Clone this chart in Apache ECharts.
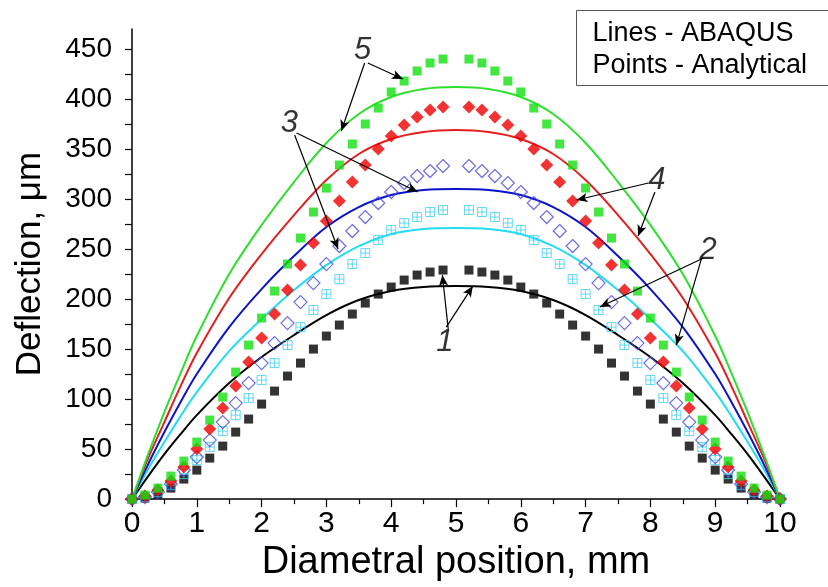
<!DOCTYPE html>
<html>
<head>
<meta charset="utf-8">
<script src="https://cdn.jsdelivr.net/npm/echarts@6/dist/echarts.min.js"></script>
<style>
  html, body { margin: 0; padding: 0; background: #fff; }
  #chart { width: 828px; height: 587px; }
</style>
</head>
<body>
<div id="chart"></div>
<script>
// analytical points (mm positions, no point at 5.0)
var xPts = [0, 0.2, 0.4, 0.6, 0.8, 1, 1.2, 1.4, 1.6, 1.8, 2, 2.2, 2.4, 2.6, 2.8, 3, 3.2, 3.4, 3.6, 3.8, 4, 4.2, 4.4, 4.6, 4.8,
            5.2, 5.4, 5.6, 5.8, 6, 6.2, 6.4, 6.6, 6.8, 7, 7.2, 7.4, 7.6, 7.8, 8, 8.2, 8.4, 8.6, 8.8, 9, 9.2, 9.4, 9.6, 9.8, 10];
var pts1 = [0, 1, 5, 11, 20, 29, 41, 53, 67, 80, 95, 108, 123, 136, 150, 163, 174, 185, 196, 205, 212, 219, 224, 227, 229,
            229, 227, 224, 219, 212, 205, 196, 185, 174, 163, 150, 136, 123, 108, 95, 80, 67, 53, 41, 29, 20, 11, 5, 1, 0];
var pts2 = [0, 2, 7, 14, 25, 39, 52, 68, 84, 101, 119, 136, 154, 172, 189, 205, 220, 235, 246, 259, 269, 276, 282, 287, 289,
            289, 287, 282, 276, 269, 259, 246, 235, 220, 205, 189, 172, 154, 136, 119, 101, 84, 68, 52, 39, 25, 14, 7, 2, 0];
var pts3 = [0, 2, 7, 15, 29, 42, 59, 77, 96, 116, 136, 156, 176, 197, 216, 235, 253, 268, 282, 296, 307, 316, 323, 328, 333,
            333, 328, 323, 316, 307, 296, 282, 268, 253, 235, 216, 197, 176, 156, 136, 116, 96, 77, 59, 42, 29, 15, 7, 2, 0];
var pts4 = [0, 3, 9, 18, 32, 50, 70, 91, 113, 137, 161, 185, 209, 234, 256, 278, 298, 317, 334, 350, 363, 374, 382, 389, 392,
            392, 389, 382, 374, 363, 350, 334, 317, 298, 278, 256, 234, 209, 185, 161, 137, 113, 91, 70, 50, 32, 18, 9, 3, 0];
var pts5 = [0, 4, 11, 23, 38, 57, 79, 102, 127, 154, 181, 208, 235, 261, 287, 311, 334, 355, 375, 391, 407, 418, 428, 436, 440,
            440, 436, 428, 418, 407, 391, 375, 355, 334, 311, 287, 261, 235, 208, 181, 154, 127, 102, 79, 57, 38, 23, 11, 4, 0];

// ABAQUS lines
var xLine = [0, 0.25, 0.5, 0.75, 1, 1.5, 2, 2.5, 3, 3.5, 4, 4.5, 5, 5.5, 6, 6.5, 7, 7.5, 8, 8.5, 9, 9.25, 9.5, 9.75, 10];
var line1 = [0, 23, 45, 65, 84, 116, 142, 164, 184, 199, 208, 212, 213, 212, 208, 199, 184, 164, 142, 116, 84, 65, 45, 23, 0];
var line2 = [0, 30, 57, 83, 107, 148, 180, 209, 234, 253, 265, 270, 271, 270, 265, 253, 234, 209, 180, 148, 107, 83, 57, 30, 0];
var line3 = [0, 35, 67, 97, 125, 172, 210, 243, 272, 292, 304, 309, 310, 309, 304, 292, 272, 243, 210, 172, 125, 97, 67, 35, 0];
var line4 = [0, 41, 77, 113, 146, 201, 245, 284, 319, 345, 360, 367, 369, 367, 360, 345, 319, 284, 245, 201, 146, 113, 77, 41, 0];
var line5 = [0, 45, 87, 126, 163, 225, 274, 317, 356, 385, 402, 410, 412, 410, 402, 385, 356, 317, 274, 225, 163, 126, 87, 45, 0];

var yTicks = [0, 25, 50, 75, 100, 125, 150, 175, 200, 225, 250, 275, 300, 325, 350, 375, 400, 425, 450];
var yLabels = [0, 50, 100, 150, 200, 250, 300, 350, 400, 450];

// curve numbers and their arrows (data coords)
var tags = [[3.56, 449, '5'], [2.43, 376, '3'], [8.10, 319, '4'], [8.89, 249, '2'], [4.83, 157, '1']];
var arrows = [
  [[3.64, 436], [4.18, 420]], [[3.59, 436], [3.23, 368]],
  [[2.54, 366], [4.41, 307]], [[2.51, 364], [3.18, 250]],
  [[7.97, 316], [6.86, 299]], [[8.07, 307], [7.81, 263]],
  [[8.82, 241], [7.22, 192]], [[8.79, 241], [8.40, 154]],
  [[4.88, 170], [4.79, 224]], [[4.85, 172], [5.26, 213]]
];

function zip(xs, ys) {
  return xs.map(function (x, i) { return [x, ys[i]]; });
}

var FONT = 'Liberation Sans';
var chart = echarts.init(document.getElementById('chart'));

function lineSeries(data, color) {
  return {
    type: 'line', data: zip(xLine, data), smooth: 0.35, showSymbol: false,
    lineStyle: { color: color, width: 2 }, z: 2, silent: true
  };
}
function pointSeries(data, symbol, size, style) {
  return {
    type: 'scatter', data: zip(xPts, data), symbol: symbol, symbolSize: size,
    itemStyle: style, z: 3, silent: true
  };
}

var option = {
  animation: false,
  grid: { left: 132, right: 48, top: 29, bottom: 83 },
  xAxis: {
    type: 'value', min: 0, max: 10, interval: 1,
    name: 'Diametral position, mm', nameLocation: 'middle', nameGap: 40,
    nameTextStyle: { fontFamily: FONT, fontSize: 38, color: '#000' },
    axisLine: { lineStyle: { color: '#000', width: 1.5 } },
    axisTick: { length: 8, lineStyle: { color: '#000', width: 1.2 } },
    minorTick: { show: true, splitNumber: 2, length: 5, lineStyle: { color: '#000', width: 1.2 } },
    axisLabel: { fontFamily: FONT, fontSize: 30, color: '#000', margin: 10 },
    splitLine: { show: false }
  },
  yAxis: {
    type: 'value', min: 0, max: 470,
    name: 'Deflection, \u03bcm', nameLocation: 'middle', nameGap: 84,
    nameTextStyle: { fontFamily: FONT, fontSize: 35, color: '#000' },
    axisLine: { lineStyle: { color: '#000', width: 1.5 } },
    axisTick: { customValues: yTicks, length: 7, lineStyle: { color: '#000', width: 1.2 } },
    axisLabel: { customValues: yLabels, fontFamily: FONT, fontSize: 28, color: '#000', margin: 20 },
    splitLine: { show: false }
  },
  series: [
    lineSeries(line1, '#000000'),
    lineSeries(line2, '#22ddee'),
    lineSeries(line3, '#0a14c8'),
    lineSeries(line4, '#e41e1e'),
    lineSeries(line5, '#2ee02e'),
    pointSeries(pts1, 'rect', 9, { color: '#000' }),
    pointSeries(pts2, 'path://M0,0H10V10H0Z M5,0V10 M0,5H10', 9,
      { color: 'rgba(0,0,0,0)', borderColor: '#3dd0f0', borderWidth: 1 }),
    pointSeries(pts3, 'diamond', 13, { color: 'rgba(0,0,0,0)', borderColor: '#4a4ad8', borderWidth: 1.2 }),
    pointSeries(pts4, 'diamond', 13, { color: '#f00000' }),
    pointSeries(pts5, 'rect', 9, { color: '#11e011' }),
    {
      type: 'scatter', data: tags, symbolSize: 1, itemStyle: { color: 'rgba(0,0,0,0)' }, z: 5, silent: true,
      label: {
        show: true, position: 'inside', formatter: function (p) { return p.value[2]; },
        fontFamily: FONT, fontStyle: 'italic', fontSize: 31, color: '#000'
      },
      markLine: {
        silent: true, symbol: ['none', 'arrow'], symbolSize: [7, 11], animation: false,
        lineStyle: { color: '#000', width: 1.2, type: 'solid' }, label: { show: false },
        data: arrows.map(function (a) { return [{ coord: a[0] }, { coord: a[1] }]; })
      }
    }
  ],
  graphic: [
    {
      type: 'group', left: 576, top: 10, children: [
        { type: 'rect', shape: { x: 0, y: 0, width: 270, height: 75 }, style: { fill: '#fff', stroke: '#555', lineWidth: 1 } },
        { type: 'text', x: 16, y: 23, style: { text: 'Lines - ABAQUS', font: '27px "Liberation Sans"', fill: '#000', verticalAlign: 'middle' } },
        { type: 'text', x: 16, y: 55, style: { text: 'Points - Analytical', font: '27px "Liberation Sans"', fill: '#000', verticalAlign: 'middle' } }
      ]
    }
  ]
};
chart.setOption(option);
</script>
</body>
</html>
